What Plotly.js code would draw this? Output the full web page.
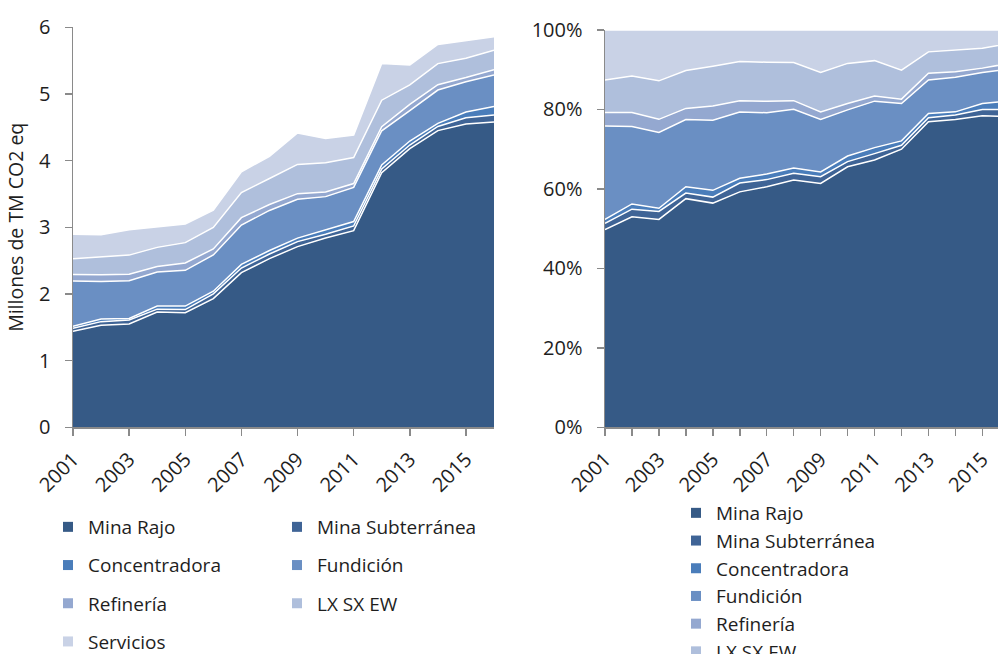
<!DOCTYPE html>
<html>
<head>
<meta charset="utf-8">
<script src="https://cdn.plot.ly/plotly-3.0.1.min.js"></script>
<style>html,body{margin:0;padding:0;background:#fff;overflow:hidden;}#chart{width:998px;height:700px;}</style>
</head>
<body>
<div id="chart"></div>
<script>
const years = [2001,2002,2003,2004,2005,2006,2007,2008,2009,2010,2011,2012,2013,2014,2015,2016];
const seriesNames = ["Mina Rajo","Mina Subterránea","Concentradora","Fundición","Refinería","LX SX EW","Servicios"];
const minaRajo      = [1.44, 1.53, 1.55, 1.73, 1.72, 1.93, 2.32, 2.53, 2.71, 2.84, 2.95, 3.82, 4.18, 4.45, 4.55, 4.58];
const minaSub       = [0.046,0.055,0.059,0.042,0.046,0.072,0.069,0.069,0.075,0.056,0.070,0.055,0.054,0.063,0.093,0.105];
const concentradora = [0.029,0.038,0.024,0.048,0.052,0.039,0.054,0.053,0.053,0.061,0.066,0.060,0.060,0.046,0.087,0.129];
const fundicion     = [0.680,0.563,0.565,0.509,0.537,0.544,0.591,0.601,0.583,0.503,0.513,0.513,0.457,0.500,0.452,0.469];
const refineria     = [0.098,0.101,0.098,0.084,0.110,0.091,0.111,0.089,0.084,0.069,0.057,0.060,0.092,0.080,0.064,0.082];
const lxsxew        = [0.237,0.265,0.287,0.286,0.305,0.323,0.376,0.390,0.438,0.438,0.390,0.399,0.293,0.316,0.290,0.293];
const servicios     = [0.365,0.335,0.379,0.307,0.278,0.258,0.311,0.333,0.473,0.364,0.338,0.551,0.299,0.287,0.267,0.199];
const labelYears  = [2001,2003,2005,2007,2009,2011,2013,2015];
const leftYTicks = [0,1,2,3,4,5,6];
const rightYTicks = [0,20,40,60,80,100];
const rightYLabels = ["0%","20%","40%","60%","80%","100%"];

const allSeries = [minaRajo, minaSub, concentradora, fundicion, refineria, lxsxew, servicios];
const colors = ["#365a86","#3f6496","#4a7dba","#6a8fc3","#94a8d0","#afbfdc","#c9d2e6"];
const FONT = "'Open Sans', Lato, sans-serif";
const txt = "#1e1e1e";
const axisCol = "#8a8a8a";

const traces = [];
allSeries.forEach((vals, i) => {
  traces.push({
    type: "scatter", mode: "lines", x: years, y: vals, name: seriesNames[i],
    stackgroup: "abs", fillcolor: colors[i], line: {color: "#ffffff", width: 1.5},
    xaxis: "x", yaxis: "y", showlegend: false, hoverinfo: "skip"
  });
});
allSeries.forEach((vals, i) => {
  const t = {
    type: "scatter", mode: "lines", x: years, y: vals, name: seriesNames[i],
    stackgroup: "pct", fillcolor: colors[i], line: {color: "#ffffff", width: 1.5},
    xaxis: "x2", yaxis: "y2", showlegend: false, hoverinfo: "skip"
  };
  if (i === 0) t.groupnorm = "percent";
  traces.push(t);
});
seriesNames.forEach((nm, i) => {
  traces.push({
    type: "scatter", mode: "markers", x: [null], y: [null], name: nm,
    marker: {symbol: "square", size: 10, color: colors[i]},
    xaxis: "x", yaxis: "y", legend: (i % 2 === 0) ? "legend" : "legend2",
    legendgroup: "L" + i, showlegend: true
  });
});
seriesNames.forEach((nm, i) => {
  traces.push({
    type: "scatter", mode: "markers", x: [null], y: [null], name: nm,
    marker: {symbol: "square", size: 10, color: colors[i]},
    xaxis: "x2", yaxis: "y2", legend: "legend3",
    legendgroup: "R" + i, showlegend: true
  });
});

const W = 998, H = 700;
const legCommon = {
  bgcolor: "rgba(0,0,0,0)", font: {family: FONT, size: 19, color: txt},
  traceorder: "grouped", itemwidth: 30, xanchor: "left", yanchor: "top",
  xref: "paper", yref: "paper", borderwidth: 0
};
const tickFont = {family: FONT, size: 20, color: txt};
const layout = {
  width: W, height: H, margin: {l: 0, r: 0, t: 0, b: 0},
  paper_bgcolor: "#ffffff", plot_bgcolor: "#ffffff",
  font: {family: FONT, size: 18, color: txt},
  showlegend: true,
  xaxis: {
    domain: [73/W, 494/W], range: [2001, 2016], anchor: "y", showgrid: false, zeroline: false,
    showline: true, linecolor: axisCol, linewidth: 1.5,
    tickmode: "array", tickvals: labelYears, ticks: "outside", ticklen: 7, tickcolor: axisCol, tickwidth: 1.5,
    tickangle: -45, tickfont: tickFont, ticklabelstandoff: 4
  },
  yaxis: {
    domain: [1 - 427.3/H, 1 - 27.3/H], range: [0, 6], anchor: "x", showgrid: false, zeroline: false,
    showline: true, linecolor: axisCol, linewidth: 1.5,
    tickmode: "array", tickvals: leftYTicks, ticks: "outside", ticklen: 7, tickcolor: axisCol, tickwidth: 1.5,
    tickfont: tickFont, ticklabelstandoff: 10,
    title: {text: "Millones de TM CO2 eq", font: {family: FONT, size: 19.5, color: txt}, standoff: 10}
  },
  xaxis2: {
    domain: [605/W, 1], range: [2001, 2015.58], anchor: "y2", showgrid: false, zeroline: false,
    showline: true, linecolor: axisCol, linewidth: 1.5,
    tickmode: "array", tickvals: labelYears, ticks: "outside", ticklen: 7, tickcolor: axisCol, tickwidth: 1.5,
    minor: {tickmode: "linear", tick0: 2001, dtick: 1, ticks: "outside", ticklen: 7, tickcolor: axisCol, tickwidth: 1.5, showgrid: false},
    tickangle: -45, tickfont: tickFont, ticklabelstandoff: 4
  },
  yaxis2: {
    domain: [1 - 427.3/H, 1 - 30/H], range: [0, 100], anchor: "x2", showgrid: false, zeroline: false,
    showline: true, linecolor: axisCol, linewidth: 1.5,
    tickmode: "array", tickvals: rightYTicks, ticktext: rightYLabels, ticks: "outside", ticklen: 7, tickcolor: axisCol, tickwidth: 1.5,
    tickfont: tickFont, ticklabelstandoff: 10
  },
  legend:  Object.assign({}, legCommon, {x: 48/W, y: 1 - 508/H, tracegroupgap: 10.5}),
  legend2: Object.assign({}, legCommon, {x: 277/W, y: 1 - 508/H, tracegroupgap: 10.5}),
  legend3: Object.assign({}, legCommon, {x: 676/W, y: 1 - 494/H, tracegroupgap: 0})
};
Plotly.newPlot("chart", traces, layout, {displayModeBar: false, staticPlot: true});
</script>
</body>
</html>
